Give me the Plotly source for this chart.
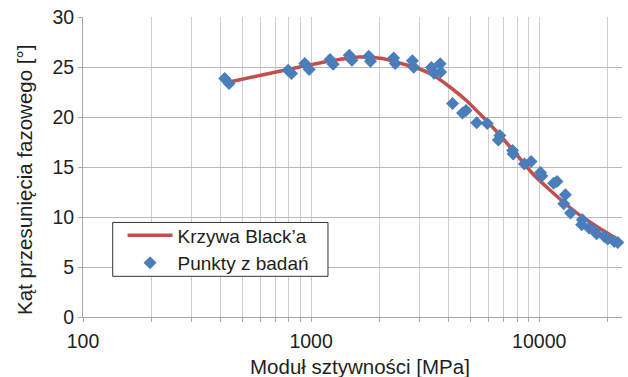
import plotly.graph_objects as go

# Black curve
curve_E = [418, 595, 891, 1210, 1630, 2060, 2440, 2909, 3418, 4059, 4819, 5664,
           6724, 7985, 9385, 11140, 13230, 15550, 18460, 21920]
curve_phi = [23.4, 24.15, 25.0, 25.6, 26.0, 25.85, 25.4, 24.9, 24.2, 23.0, 21.6, 20.0,
             18.2, 16.2, 14.3, 12.7, 11.2, 9.95, 8.85, 7.8]

# test points
pts_E = [418, 437, 793, 821, 938, 981, 1210, 1250, 1470, 1510, 1790, 1820, 2300, 2340,
         2780, 2820, 3370, 3460, 3680, 3700, 4170, 4610, 4780, 5320, 5920, 6720, 6620,
         7640, 7690, 8610, 9210, 10130, 10270, 11570, 11970, 13030, 12820, 13720, 15460,
         15350, 16550, 17420, 17840, 19300, 19960, 21370, 22100]
pts_phi = [23.85, 23.35, 24.68, 24.35, 25.35, 24.75, 25.75, 25.28, 26.18, 25.68, 26.08,
           25.58, 25.91, 25.35, 25.63, 24.98, 24.95, 24.38, 25.33, 24.51, 21.34, 20.39,
           20.64, 19.43, 19.35, 18.15, 17.70, 16.66, 16.31, 15.31, 15.54, 14.44, 14.11,
           13.38, 13.54, 12.22, 11.32, 10.39, 9.72, 9.22, 8.90, 8.66, 8.33, 8.06, 7.80,
           7.56, 7.46]

x_tickvals = [100, 200, 300, 400, 500, 600, 700, 800, 900,
              1000, 2000, 3000, 4000, 5000, 6000, 7000, 8000, 9000,
              10000, 20000]
x_ticktext = ["100", "", "", "", "", "", "", "", "",
              "1000", "", "", "", "", "", "", "", "",
              "10000", ""]
y_tickvals = [0, 5, 10, 15, 20, 25, 30]

FONT = "Liberation Sans, Arial, sans-serif"
TXT = "#231f20"

fig = go.Figure()
fig.add_trace(go.Scatter(
    x=curve_E, y=curve_phi, mode="lines", name="Krzywa Black’a",
    line=dict(color="#C0504D", width=3.5, shape="spline", smoothing=0.6),
    legend="legend",
))
fig.add_trace(go.Scatter(
    x=pts_E, y=pts_phi, mode="markers", name="Punkty z badań",
    marker=dict(symbol="diamond", size=10, color="#4A7EBB", line=dict(width=0)),
    cliponaxis=False, legend="legend2",
))

leg_common = dict(
    xanchor="left", yanchor="middle",
    bgcolor="rgba(0,0,0,0)", borderwidth=0,
    font=dict(family=FONT, size=19, color=TXT),
    itemwidth=45,
)

fig.update_layout(
    width=628, height=377,
    margin=dict(l=83, r=6, t=17, b=60),
    paper_bgcolor="white", plot_bgcolor="white",
    font=dict(family=FONT, size=19, color=TXT),
    showlegend=True,
    legend=dict(x=0.0734, y=0.272, **leg_common),
    legend2=dict(x=0.0734, y=0.180, **leg_common),
    xaxis=dict(
        type="log", range=[2, 4.363],
        tickmode="array", tickvals=x_tickvals, ticktext=x_ticktext,
        showgrid=True, gridcolor="#cfcfcf", gridwidth=1,
        ticks="outside", ticklen=4, tickcolor="#a8a8a8",
        showline=True, linecolor="#a8a8a8", linewidth=1,
        zeroline=False, ticklabelstandoff=3,
        tickfont=dict(family=FONT, size=19.5, color=TXT),
    ),
    yaxis=dict(
        range=[0, 30], tickmode="array", tickvals=y_tickvals,
        showgrid=True, gridcolor="#b8b8b8", gridwidth=1,
        ticks="outside", ticklen=4, tickcolor="#a8a8a8",
        showline=True, linecolor="#a8a8a8", linewidth=1,
        zeroline=False,
        tickfont=dict(family=FONT, size=19.5, color=TXT),
    ),
    shapes=[
        dict(type="rect", xref="paper", yref="paper",
             x0=0.0551, x1=0.4545, y0=0.1356, y1=0.3152,
             line=dict(color="#333333", width=1), fillcolor="white", layer="above"),
    ],
    annotations=[
        dict(text="Moduł sztywności [MPa]", xref="paper", yref="paper",
             x=0.514, y=-0.1646, xanchor="center", yanchor="middle",
             showarrow=False, font=dict(family=FONT, size=20.5, color=TXT)),
        dict(text="Kąt przesunięcia fazowego [°]", xref="paper", yref="paper",
             x=-0.1076, y=0.457, xanchor="center", yanchor="middle", textangle=-90,
             showarrow=False, font=dict(family=FONT, size=20.5, color=TXT)),
    ],
)

fig.write_html("out.html", config={"displayModeBar": False},
               post_script="document.body.style.margin='0px';")
